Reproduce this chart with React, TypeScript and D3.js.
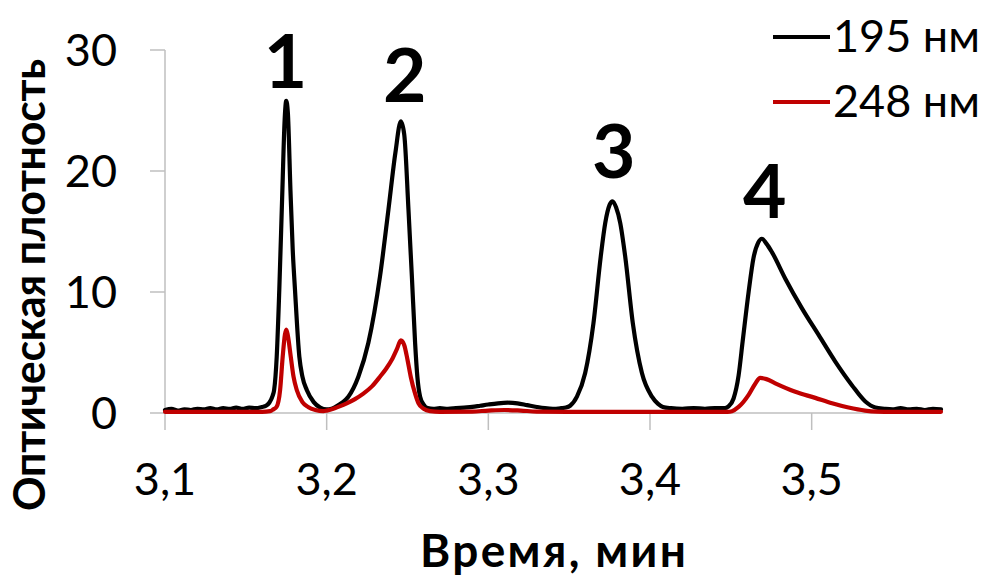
import React from "react";
import * as d3 from "d3";

// Chromatogram: optical density vs retention time at two wavelengths
const time195 = [
  3.100, 3.104, 3.108, 3.112, 3.116, 3.120, 3.124, 3.128, 3.132, 3.136, 3.140, 3.144, 3.148, 3.152, 3.156, 3.160,
  3.1625, 3.1645, 3.1665, 3.1675, 3.1691, 3.1707, 3.1726, 3.1740, 3.1750, 3.1760, 3.1776, 3.1790, 3.1804, 3.1831,
  3.1850, 3.1877, 3.1920, 3.1960, 3.2000, 3.2030, 3.2060, 3.2100, 3.2134, 3.2196, 3.2258, 3.2330, 3.2382, 3.2425,
  3.2459, 3.2480, 3.2506, 3.2527, 3.2547, 3.2561, 3.2578, 3.2600, 3.2625, 3.2660, 3.2700, 3.2750, 3.2800, 3.2850,
  3.2900, 3.2950, 3.3000, 3.3060, 3.3120, 3.3180, 3.3240, 3.3300, 3.3350, 3.3400, 3.3450, 3.3480, 3.3506, 3.3548,
  3.3599, 3.3650, 3.3695, 3.3723, 3.3750, 3.3768, 3.3790, 3.3816, 3.3847, 3.3894, 3.3950, 3.4012, 3.4050, 3.4080,
  3.4130, 3.4200, 3.4270, 3.4340, 3.4400, 3.4460, 3.4486, 3.4517, 3.4548, 3.4573, 3.4610, 3.4640, 3.4670, 3.4692,
  3.4720, 3.4754, 3.4837, 3.4940, 3.5043, 3.5146, 3.5249, 3.5332, 3.5394, 3.5450, 3.5500, 3.5550, 3.5600, 3.5650,
  3.5700, 3.5750, 3.5800,
];
const od195 = [
  0.25, 0.35, 0.2, 0.3, 0.25, 0.35, 0.3, 0.4, 0.3, 0.4, 0.35, 0.45, 0.35, 0.45, 0.4, 0.5,
  0.6, 0.85, 1.4, 1.9, 4.65, 10.2, 18.4, 24.2, 25.8, 24.8, 18.4, 13.5, 10.2, 4.65,
  3.0, 1.9, 0.9, 0.45, 0.3, 0.35, 0.55, 0.9, 1.35, 3.0, 5.8, 11.3, 16.8, 21.5,
  24.1, 23.0, 16.8, 11.3, 5.8, 3.0, 1.35, 0.7, 0.4, 0.35, 0.4, 0.35, 0.4, 0.45,
  0.5, 0.6, 0.7, 0.8, 0.85, 0.8, 0.65, 0.5, 0.4, 0.35, 0.4, 0.45, 0.6, 1.35,
  3.3, 7.4, 12.9, 15.7, 17.2, 17.5, 17.0, 15.7, 12.9, 7.4, 3.3, 1.35, 0.75, 0.5,
  0.4, 0.35, 0.4, 0.35, 0.4, 0.4, 0.55, 1.2, 3.1, 5.9, 10.0, 12.8, 14.1, 14.4,
  14.0, 13.3, 11.1, 8.65, 6.45, 4.25, 2.3, 0.95, 0.45, 0.35, 0.3, 0.4, 0.3, 0.35,
  0.25, 0.35, 0.3,
];

const time248 = [
  3.100, 3.120, 3.140, 3.160, 3.165, 3.167, 3.169, 3.1712, 3.1728, 3.1742, 3.1750, 3.1760, 3.1778, 3.1795,
  3.1815, 3.1850, 3.1885, 3.1930, 3.1980, 3.2000, 3.2050, 3.2080, 3.2124, 3.2175, 3.2227, 3.2280, 3.2330,
  3.2370, 3.2403, 3.2435, 3.2459, 3.2480, 3.2500, 3.2520, 3.2547, 3.2568, 3.2600, 3.2640, 3.2700, 3.2900,
  3.3000, 3.3100, 3.3200, 3.3300, 3.3500, 3.3800, 3.4100, 3.4400, 3.4480, 3.4507, 3.4548, 3.4610, 3.4650,
  3.4682, 3.4720, 3.4775, 3.4899, 3.5022, 3.5126, 3.5228, 3.5330, 3.5400, 3.5500, 3.5800,
];
const od248 = [
  0.1, 0.1, 0.1, 0.1, 0.15, 0.3, 0.5, 1.9, 4.65, 6.5, 6.9, 6.4, 4.65, 3.0,
  1.9, 0.9, 0.5, 0.25, 0.15, 0.2, 0.4, 0.55, 0.8, 1.15, 1.6, 2.2, 3.0,
  3.7, 4.4, 5.3, 6.0, 5.6, 4.4, 3.0, 1.6, 0.8, 0.35, 0.15, 0.1, 0.12,
  0.2, 0.25, 0.2, 0.12, 0.1, 0.1, 0.1, 0.1, 0.1, 0.15, 0.5, 1.5, 2.4,
  2.9, 2.8, 2.45, 1.75, 1.25, 0.8, 0.45, 0.2, 0.12, 0.1, 0.1,
];

const seriesNames = ["195 нм", "248 нм"];
const seriesColors = ["#000000", "#c00000"];

const xTicks = [3.1, 3.2, 3.3, 3.4, 3.5];
const yTicks = [0, 10, 20, 30];

// Peak numbers and where they sit (time, optical density)
const peakLabels = ["1", "2", "3", "4"];
const peakLabelTimes = [3.1745, 3.2483, 3.3776, 3.4710];
const peakLabelOD = [26.9, 25.7, 19.4, 16.1];

const xTitle = "Время, мин";
const yTitle = "Оптическая плотность";

const FONT = "Lato, 'Open Sans', 'Noto Sans', sans-serif";
const AXIS_GRAY = "#bfbfbf";

export default function App() {
  const x = d3.scaleLinear().domain([3.1, 3.58]).range([165, 941]);
  const y = d3.scaleLinear().domain([0, 30]).range([413, 50]);

  const line = d3
    .line<[number, number]>()
    .x((d) => x(d[0]))
    .y((d) => y(d[1]))
    .curve(d3.curveMonotoneX);

  const data195 = time195.map((t, i) => [t, od195[i]] as [number, number]);
  const data248 = time248.map((t, i) => [t, od248[i]] as [number, number]);
  const series = [data195, data248];

  const fmt = (v: number) => d3.format(".1f")(v).replace(".", ",");

  return (
    <svg
      width={992}
      height={576}
      viewBox="0 0 992 576"
      style={{ position: "absolute", left: 0, top: 0, background: "#fff" }}
      fontFamily={FONT}
    >
      <rect x={0} y={0} width={992} height={576} fill="#fff" />

      {/* axes */}
      <g stroke={AXIS_GRAY} strokeWidth={1.5} fill="none">
        <line x1={x(3.1)} x2={x(3.1)} y1={y(30)} y2={y(0)} />
        <line x1={x(3.1)} x2={x(3.58)} y1={y(0)} y2={y(0)} />
        {yTicks.map((v) => (
          <line key={"yt" + v} x1={x(3.1) - 15} x2={x(3.1)} y1={y(v)} y2={y(v)} />
        ))}
        {xTicks.map((v) => (
          <line key={"xt" + v} x1={x(v)} x2={x(v)} y1={y(0)} y2={y(0) + 17} />
        ))}
      </g>

      {/* tick labels */}
      <g fontSize={45} fill="#000">
        {yTicks.map((v) => (
          <text key={"yl" + v} x={117} y={y(v) + 16} textAnchor="end">
            {v}
          </text>
        ))}
        {xTicks.map((v) => (
          <text key={"xl" + v} x={x(v)} y={495} textAnchor="middle">
            {fmt(v)}
          </text>
        ))}
      </g>

      {/* series */}
      {series.map((d, i) => (
        <path
          key={seriesNames[i]}
          d={line(d) || ""}
          fill="none"
          stroke={seriesColors[i]}
          strokeWidth={4.2}
          strokeLinejoin="round"
          strokeLinecap="round"
        />
      ))}

      {/* peak numbers */}
      <g fontSize={75} fontWeight="bold" fill="#000" textAnchor="middle">
        {peakLabels.map((s, i) => (
          <text key={"p" + s} x={x(peakLabelTimes[i])} y={y(peakLabelOD[i])}>
            {s}
          </text>
        ))}
      </g>

      {/* legend */}
      <g>
        {seriesNames.map((name, i) => (
          <g key={"lg" + name} transform={`translate(0, ${i * 65})`}>
            <line x1={773} x2={830} y1={37} y2={37} stroke={seriesColors[i]} strokeWidth={4.2} />
            <text x={833} y={52} fontSize={45} fill="#000">
              {name}
            </text>
          </g>
        ))}
      </g>

      {/* axis titles */}
      <text
        x={553}
        y={567}
        fontSize={46}
        fontWeight="bold"
        textAnchor="middle"
        fill="#000"
        textLength={266}
        lengthAdjust="spacing"
      >
        {xTitle}
      </text>
      <text
        transform="translate(45, 285) rotate(-90)"
        fontSize={43}
        fontWeight="bold"
        textAnchor="middle"
        fill="#000"
        textLength={452}
        lengthAdjust="spacing"
      >
        {yTitle}
      </text>
    </svg>
  );
}
